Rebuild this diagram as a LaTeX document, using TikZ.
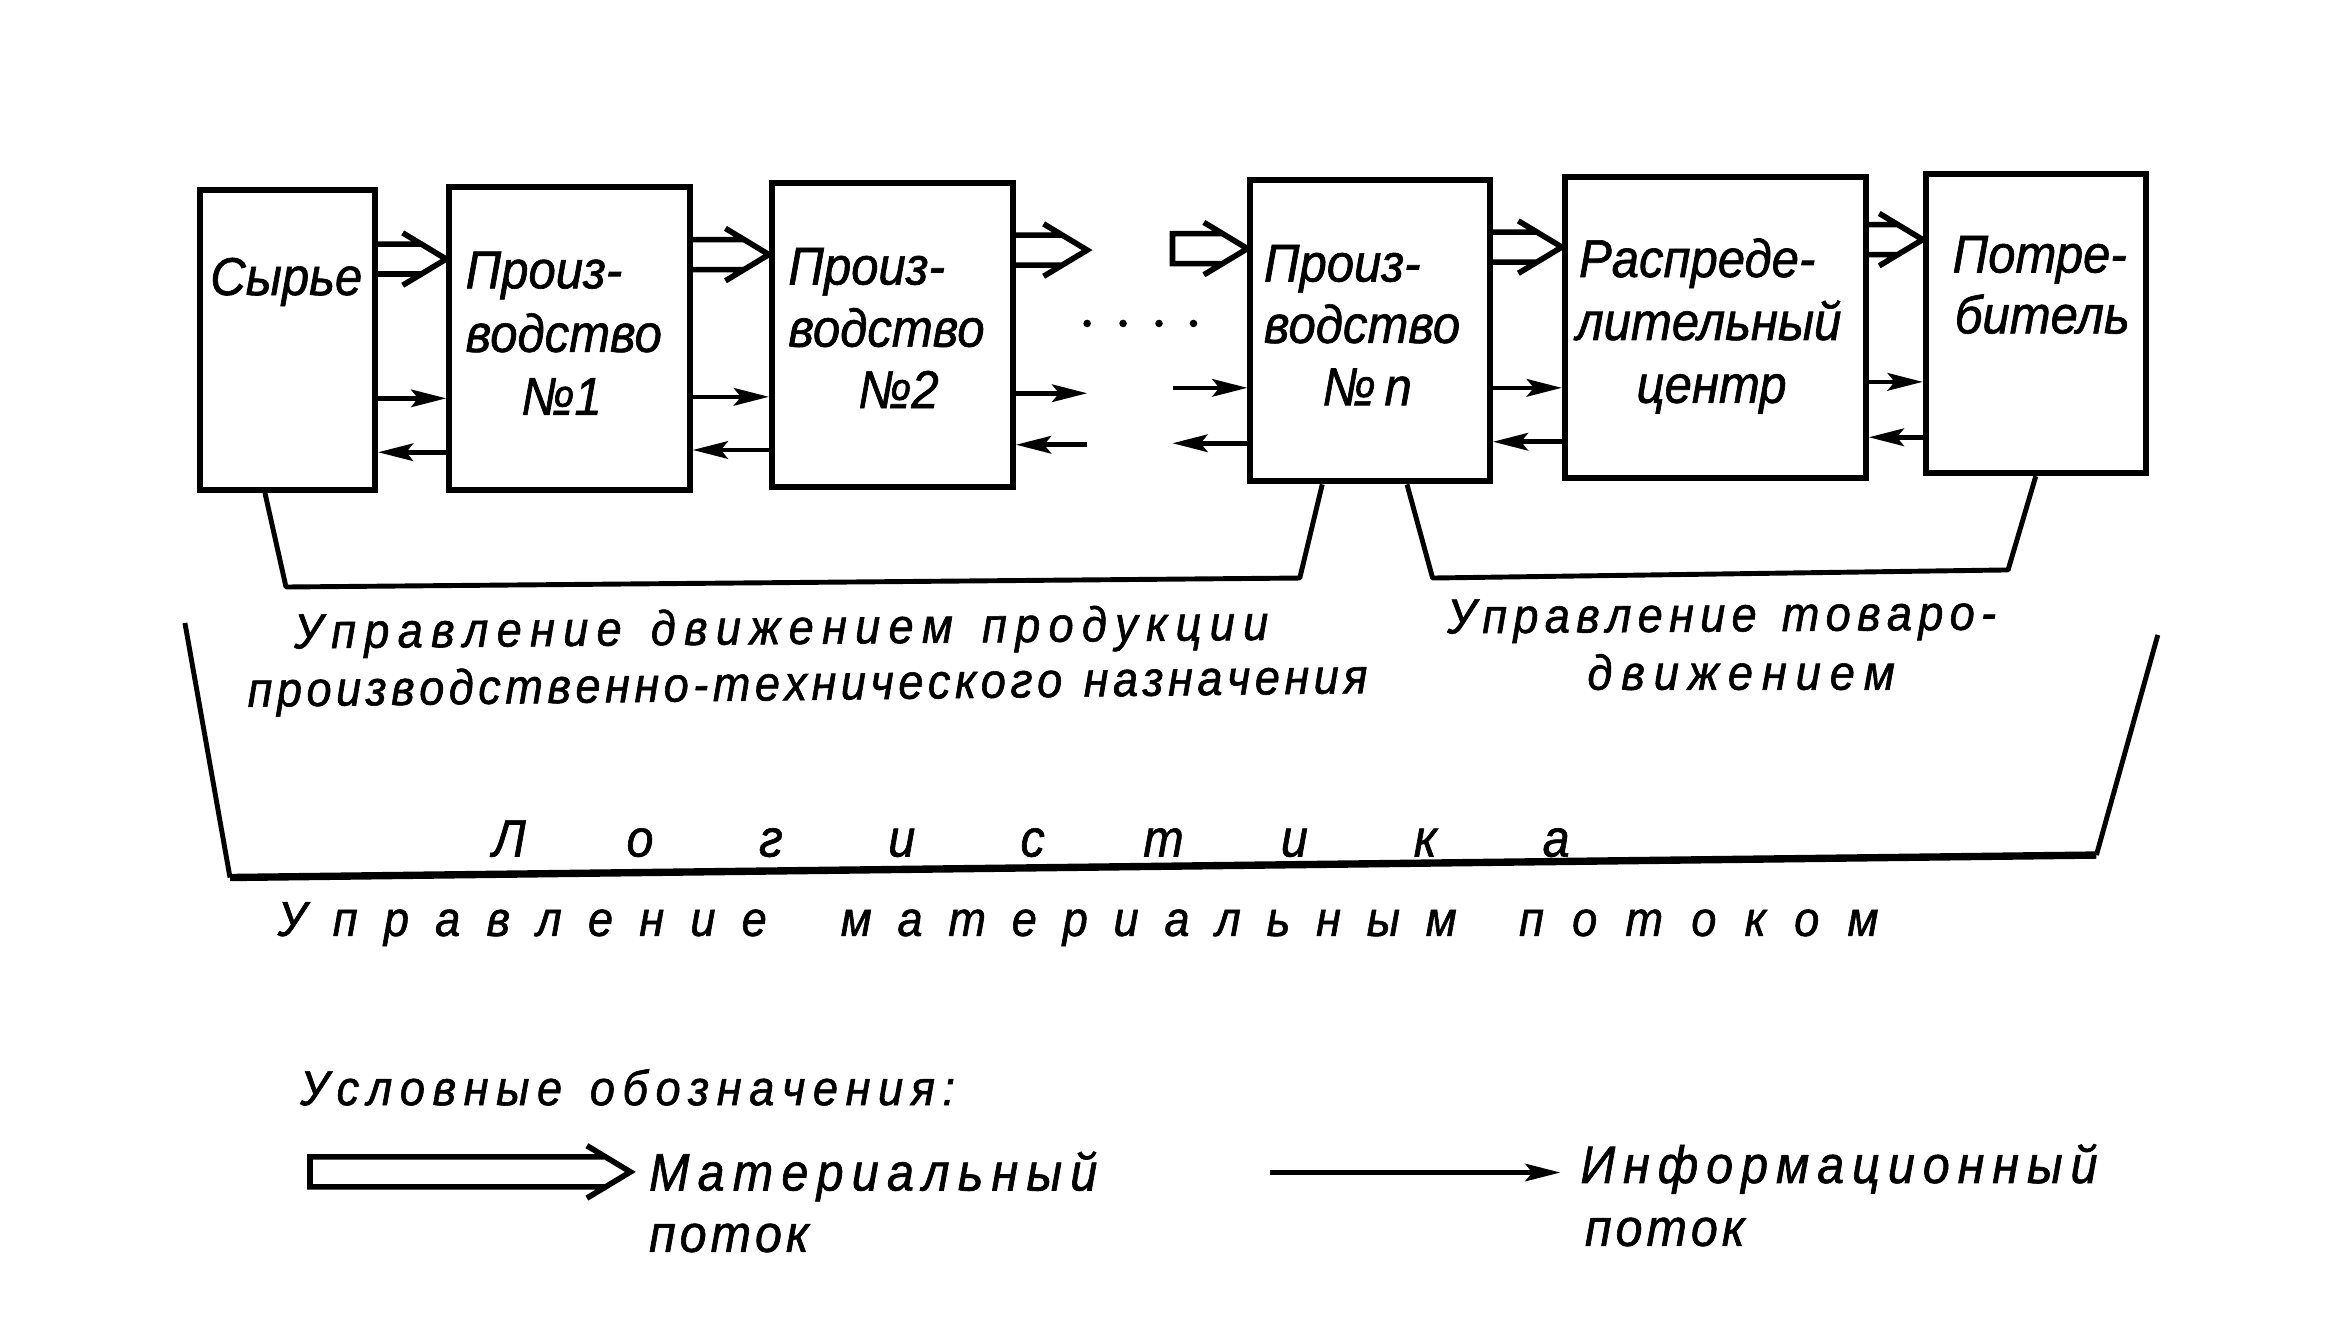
\documentclass[tikz,border=0pt]{standalone}
\usepackage{fontspec}
\newfontfamily\hand{Liberation Sans}[FakeStretch=0.92,FakeBold=1.2]
\usetikzlibrary{arrows.meta,calc}
\def\sprend{SPREND}
\def\sprdo#1{#1\sprnext}
\def\sprnext#1{\ifx#1\sprend\else\hspace{0pt plus 1fil}#1\expandafter\sprnext\fi}
\newcommand\spr[2]{\makebox[#1][s]{\sprdo#2\sprend}}
% hollow (material-flow) arrow: shaft half-width 4.27pt, head half-width 7.47pt, head length 12.4pt
\newcommand\matarr[2]{\draw[matline] let \p1=(#1), \p2=(#2) in
  (\x1,\y1+4.27pt) -- (\x2-7.1pt,\y1+4.27pt)
  (\x1,\y1-4.27pt) -- (\x2-7.1pt,\y1-4.27pt)
  (\x2-12.4pt,\y1+7.47pt) -- (\x2,\y1) -- (\x2-12.4pt,\y1-7.47pt);}
\newcommand\matarrc[2]{\draw[matline] let \p1=(#1), \p2=(#2) in
  (\x2-7.1pt,\y1+4.27pt) -- (\x1,\y1+4.27pt) -- (\x1,\y1-4.27pt) -- (\x2-7.1pt,\y1-4.27pt)
  (\x2-12.4pt,\y1+7.47pt) -- (\x2,\y1) -- (\x2-12.4pt,\y1-7.47pt);}
\tikzset{
  box/.style={draw, line width=1.7pt, inner sep=0pt},
  btxt/.style={font=\hand\itshape\fontsize{15.2}{17}\selectfont, inner sep=0pt},
  ltxt/.style={font=\hand\itshape\fontsize{14}{16}\selectfont, inner sep=0pt, anchor=base west},
  bigtxt/.style={font=\hand\itshape\fontsize{15}{17}\selectfont, inner sep=0pt, anchor=base west},
  matline/.style={line width=1.6pt, line join=miter},
  info/.style={line width=1.3pt, -{Stealth[length=10pt,width=5pt,inset=2pt]}},
  brk/.style={line width=1.4pt},
  frame/.style={line width=1.4pt},
  framebot/.style={line width=2.1pt}
}
\begin{document}
\begin{tikzpicture}[x=0.015cm,y=-0.015cm]
\useasboundingbox (0,0) rectangle (1560,880);
\fill[white] (0,0) rectangle (1560,880);
% boxes
\node[box, minimum width=1.755cm, minimum height=3.0cm] (A) at (192,227) {};
\node[box, minimum width=2.41cm, minimum height=3.03cm] (B) at (380.3,226) {};
\node[box, minimum width=2.415cm, minimum height=3.045cm] (C) at (596,223.5) {};
\node[box, minimum width=2.4cm, minimum height=3.015cm] (D) at (915,221) {};
\node[box, minimum width=3.015cm, minimum height=3.015cm] (E) at (1145.5,218.5) {};
\node[box, minimum width=2.205cm, minimum height=3.0cm] (F) at (1359.5,216) {};
% box texts
\node[btxt, anchor=base west] (tA) at (140,197) {Сырье};
\node[btxt, anchor=base west] (tB1) at (310.5,192.5) {Произ-};
\node[btxt, anchor=base west] (tB2) at (310.5,235) {водство};
\node[btxt, anchor=base] (tB3) at (375,277) {№1};
\node[btxt, anchor=base west] (tC1) at (526,190) {Произ-};
\node[btxt, anchor=base west] (tC2) at (526,231.5) {водство};
\node[btxt, anchor=base] (tC3) at (600,272.5) {№2};
\node[btxt, anchor=base west] (tD1) at (843.6,188) {Произ-};
\node[btxt, anchor=base west] (tD2) at (843.6,229) {водство};
\node[btxt, anchor=base] (tD3) at (913,270.6) {№\,n};
\node[btxt, anchor=base west] (tE1) at (1054,185) {Распреде-};
\node[btxt, anchor=base west] (tE2) at (1052,227) {лительный};
\node[btxt, anchor=base] (tE3) at (1143,269) {центр};
\node[btxt, anchor=base west] (tF1) at (1303.5,182) {Потре-};
\node[btxt, anchor=base west] (tF2) at (1305,222.6) {битель};
% material flows
\coordinate (c1) at (726,167);
\coordinate (c2) at (783,166);
\matarr{A.east |- 0,173}{B.west |- 0,173}
\matarr{B.east |- 0,170}{C.west |- 0,170}
\matarr{C.east |- 0,167}{c1}
\matarrc{c2}{D.west |- 0,166}
\matarr{D.east |- 0,165}{E.west |- 0,165}
\matarr{E.east |- 0,160}{F.west |- 0,160}
% info flows
\coordinate (i1) at (726,262.6);
\coordinate (i2) at (726,297);
\coordinate (i3) at (783,259);
\coordinate (i4) at (783,296);
\draw[info] (A.east |- 0,266) -- (B.west |- 0,266);
\draw[info] (B.west |- 0,302) -- (A.east |- 0,302);
\draw[info] (B.east |- 0,265) -- (C.west |- 0,265);
\draw[info] (C.west |- 0,300.5) -- (B.east |- 0,300.5);
\draw[info] (C.east |- 0,262.6) -- (i1);
\draw[info] (i2) -- (C.east |- 0,297);
\draw[info] (i3) -- (D.west |- 0,259);
\draw[info] (D.west |- 0,296) -- (i4);
\draw[info] (D.east |- 0,259) -- (E.west |- 0,259);
\draw[info] (E.west |- 0,295) -- (D.east |- 0,295);
\draw[info] (E.east |- 0,255) -- (F.west |- 0,255);
\draw[info] (F.west |- 0,292) -- (E.east |- 0,292);
% dots
\foreach \xx in {726,750,774,797} \fill (\xx,216) circle[radius=0.038cm];
% brackets
\draw[brk, line join=round] ($(A.south west)+(45.4,0)$) -- (191,392) -- (868,386) -- ($(D.south west)+(50,0)$);
\draw[brk, line join=round] ($(D.south west)+(106.6,0)$) -- (956.7,386) -- (1341,380.6) -- (F.south);
\node[ltxt, rotate=0.5] (l1) at (196,433) {\spr{9.76cm}{Управление~движением~продукции}};
\node[ltxt, rotate=0.7] (l2) at (165,472) {\spr{11.22cm}{производственно-технического~назначения}};
\node[ltxt, rotate=0.4] (l3) at (966,423) {\spr{5.5cm}{Управление~товаро-}};
\node[ltxt] (l4) at (1059.6,460.6) {\spr{3.08cm}{движением}};
% logistics frame
\draw[frame] (123.5,416) -- (153.6,586);
\draw[framebot] (153.6,586) -- (1400,571);
\draw[frame] (1400,571) -- (1441,424);
\foreach \ch [count=\i from 0] in {Л,о,г,и,с,т,и,к,а}
  \node[bigtxt, anchor=base] (lg\i) at (340+87.4*\i,572) {\ch};
\node[ltxt] (m1) at (185,625) {\spr{4.9cm}{Управление}};
\node[ltxt] (m2) at (561,625) {\spr{6.17cm}{материальным}};
\node[ltxt] (m3) at (1014,625) {\spr{3.6cm}{потоком}};
% legend
\node[ltxt] (lg) at (200,738) {\spr{6.56cm}{Условные~обозначения:}};
\coordinate (la) at (207,782.6);
\coordinate (lb) at (421,782.6);
\matarrc{la}{lb}
\node[bigtxt] (lm1) at (433,795) {\spr{4.49cm}{Материальный}};
\node[bigtxt] (lm2) at (433,836) {\spr{1.6cm}{поток}};
\coordinate (lc) at (848,783);
\coordinate (ld) at (1042,783);
\draw[info] (lc) -- (ld);
\node[bigtxt] (li1) at (1055,790) {\spr{5.18cm}{Информационный}};
\node[bigtxt] (li2) at (1058,832) {\spr{1.6cm}{поток}};
\end{tikzpicture}
\end{document}
